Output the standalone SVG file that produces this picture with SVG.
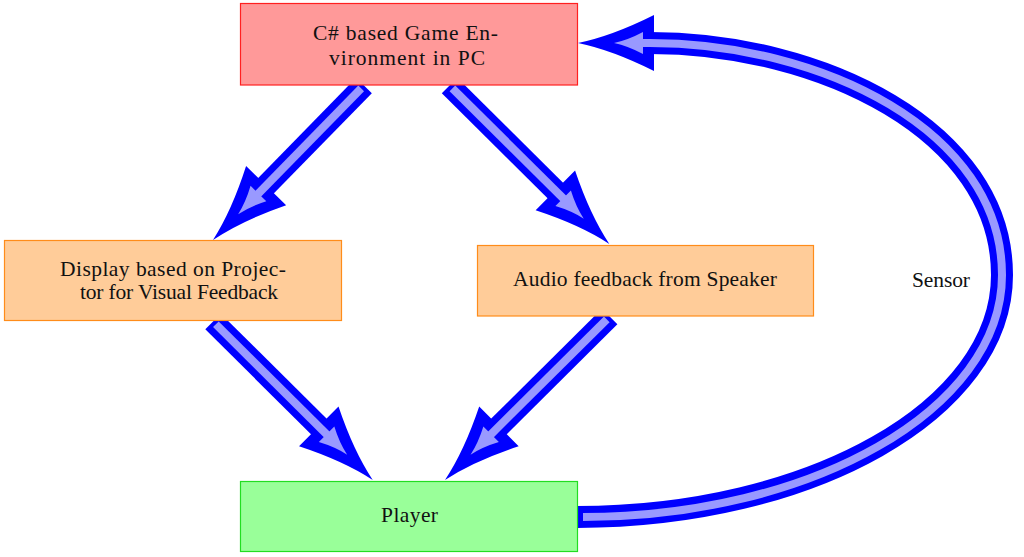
<svg xmlns="http://www.w3.org/2000/svg" width="1024" height="557" viewBox="0 0 1024 557">
<style>
.t{font-family:"Liberation Serif","Times New Roman",serif;font-size:21.5px;fill:#111;text-anchor:middle}
.so{stroke:#0000ff;stroke-width:22;fill:none;stroke-linecap:butt}
.si{stroke:#9999ff;stroke-width:8;fill:none;stroke-linecap:butt}
.ho{fill:#0000ff}
.hi{fill:#9999ff}
.red{fill:#ff9999;stroke:#ff2020;stroke-width:1.2}
.org{fill:#ffcc99;stroke:#ff8c1a;stroke-width:1.2}
.grn{fill:#99ff99;stroke:#22dd22;stroke-width:1.2}
</style>
<defs>
<path id="hO" d="M0,0 Q-34,-7 -76,-28 L-76,28 Q-34,7 0,0Z"/>
<path id="hI" d="M-36,0 Q-50,-3 -65,-11 L-65,11 Q-50,3 -36,0Z"/>
</defs>
<rect width="1024" height="557" fill="#fff"/>
<g id="connectors">
<g transform="translate(213,240) rotate(134.34)">
<line class="so" x1="-216" y1="0" x2="-70" y2="0"/>
<use href="#hO" class="ho"/>
<line class="si" x1="-212" y1="0" x2="-62" y2="0"/>
<use href="#hI" class="hi"/>
</g>
<g transform="translate(609.3,244) rotate(44.77)">
<line class="so" x1="-225" y1="0" x2="-70" y2="0"/>
<use href="#hO" class="ho"/>
<line class="si" x1="-221" y1="0" x2="-62" y2="0"/>
<use href="#hI" class="hi"/>
</g>
<g transform="translate(372.7,480) rotate(44.8)">
<line class="so" x1="-225" y1="0" x2="-70" y2="0"/>
<use href="#hO" class="ho"/>
<line class="si" x1="-221" y1="0" x2="-62" y2="0"/>
<use href="#hI" class="hi"/>
</g>
<g transform="translate(445,480) rotate(135.2)">
<line class="so" x1="-232" y1="0" x2="-70" y2="0"/>
<use href="#hO" class="ho"/>
<line class="si" x1="-228" y1="0" x2="-62" y2="0"/>
<use href="#hI" class="hi"/>
</g>
<g id="sensor-edge">
<path class="so" d="M577,517 C810,517 1002,410 1002,275 C1002,130 820,43 650,43 L648,43"/>
<use href="#hO" class="ho" transform="translate(578,43) rotate(180)"/>
<path class="si" d="M583,517 C810,517 1002,410 1002,275 C1002,130 820,43 650,43 L640,43"/>
<use href="#hI" class="hi" transform="translate(578,43) rotate(180)"/>
<text class="t" x="941" y="287" textLength="58" lengthAdjust="spacing">Sensor</text>
</g>
</g>
<g id="node-game">
<rect class="red" x="240.5" y="3.5" width="337" height="81.5"/>
<text class="t" x="405.5" y="39.5" textLength="185" lengthAdjust="spacing">C# based Game En-</text>
<text class="t" x="407" y="64.5" textLength="156" lengthAdjust="spacing">vironment in PC</text>
</g>
<g id="node-display">
<rect class="org" x="4.5" y="240.5" width="337" height="80"/>
<text class="t" x="173" y="276" textLength="226" lengthAdjust="spacing">Display based on Projec-</text>
<text class="t" x="179" y="299" textLength="198" lengthAdjust="spacing">tor for Visual Feedback</text>
</g>
<g id="node-audio">
<rect class="org" x="477.5" y="245.5" width="336" height="70.5"/>
<text class="t" x="645" y="285.7" textLength="264" lengthAdjust="spacing">Audio feedback from Speaker</text>
</g>
<g id="node-player">
<rect class="grn" x="240.5" y="481.5" width="337" height="70"/>
<text class="t" x="409.5" y="521.5" textLength="57" lengthAdjust="spacing">Player</text>
</g>
</svg>
